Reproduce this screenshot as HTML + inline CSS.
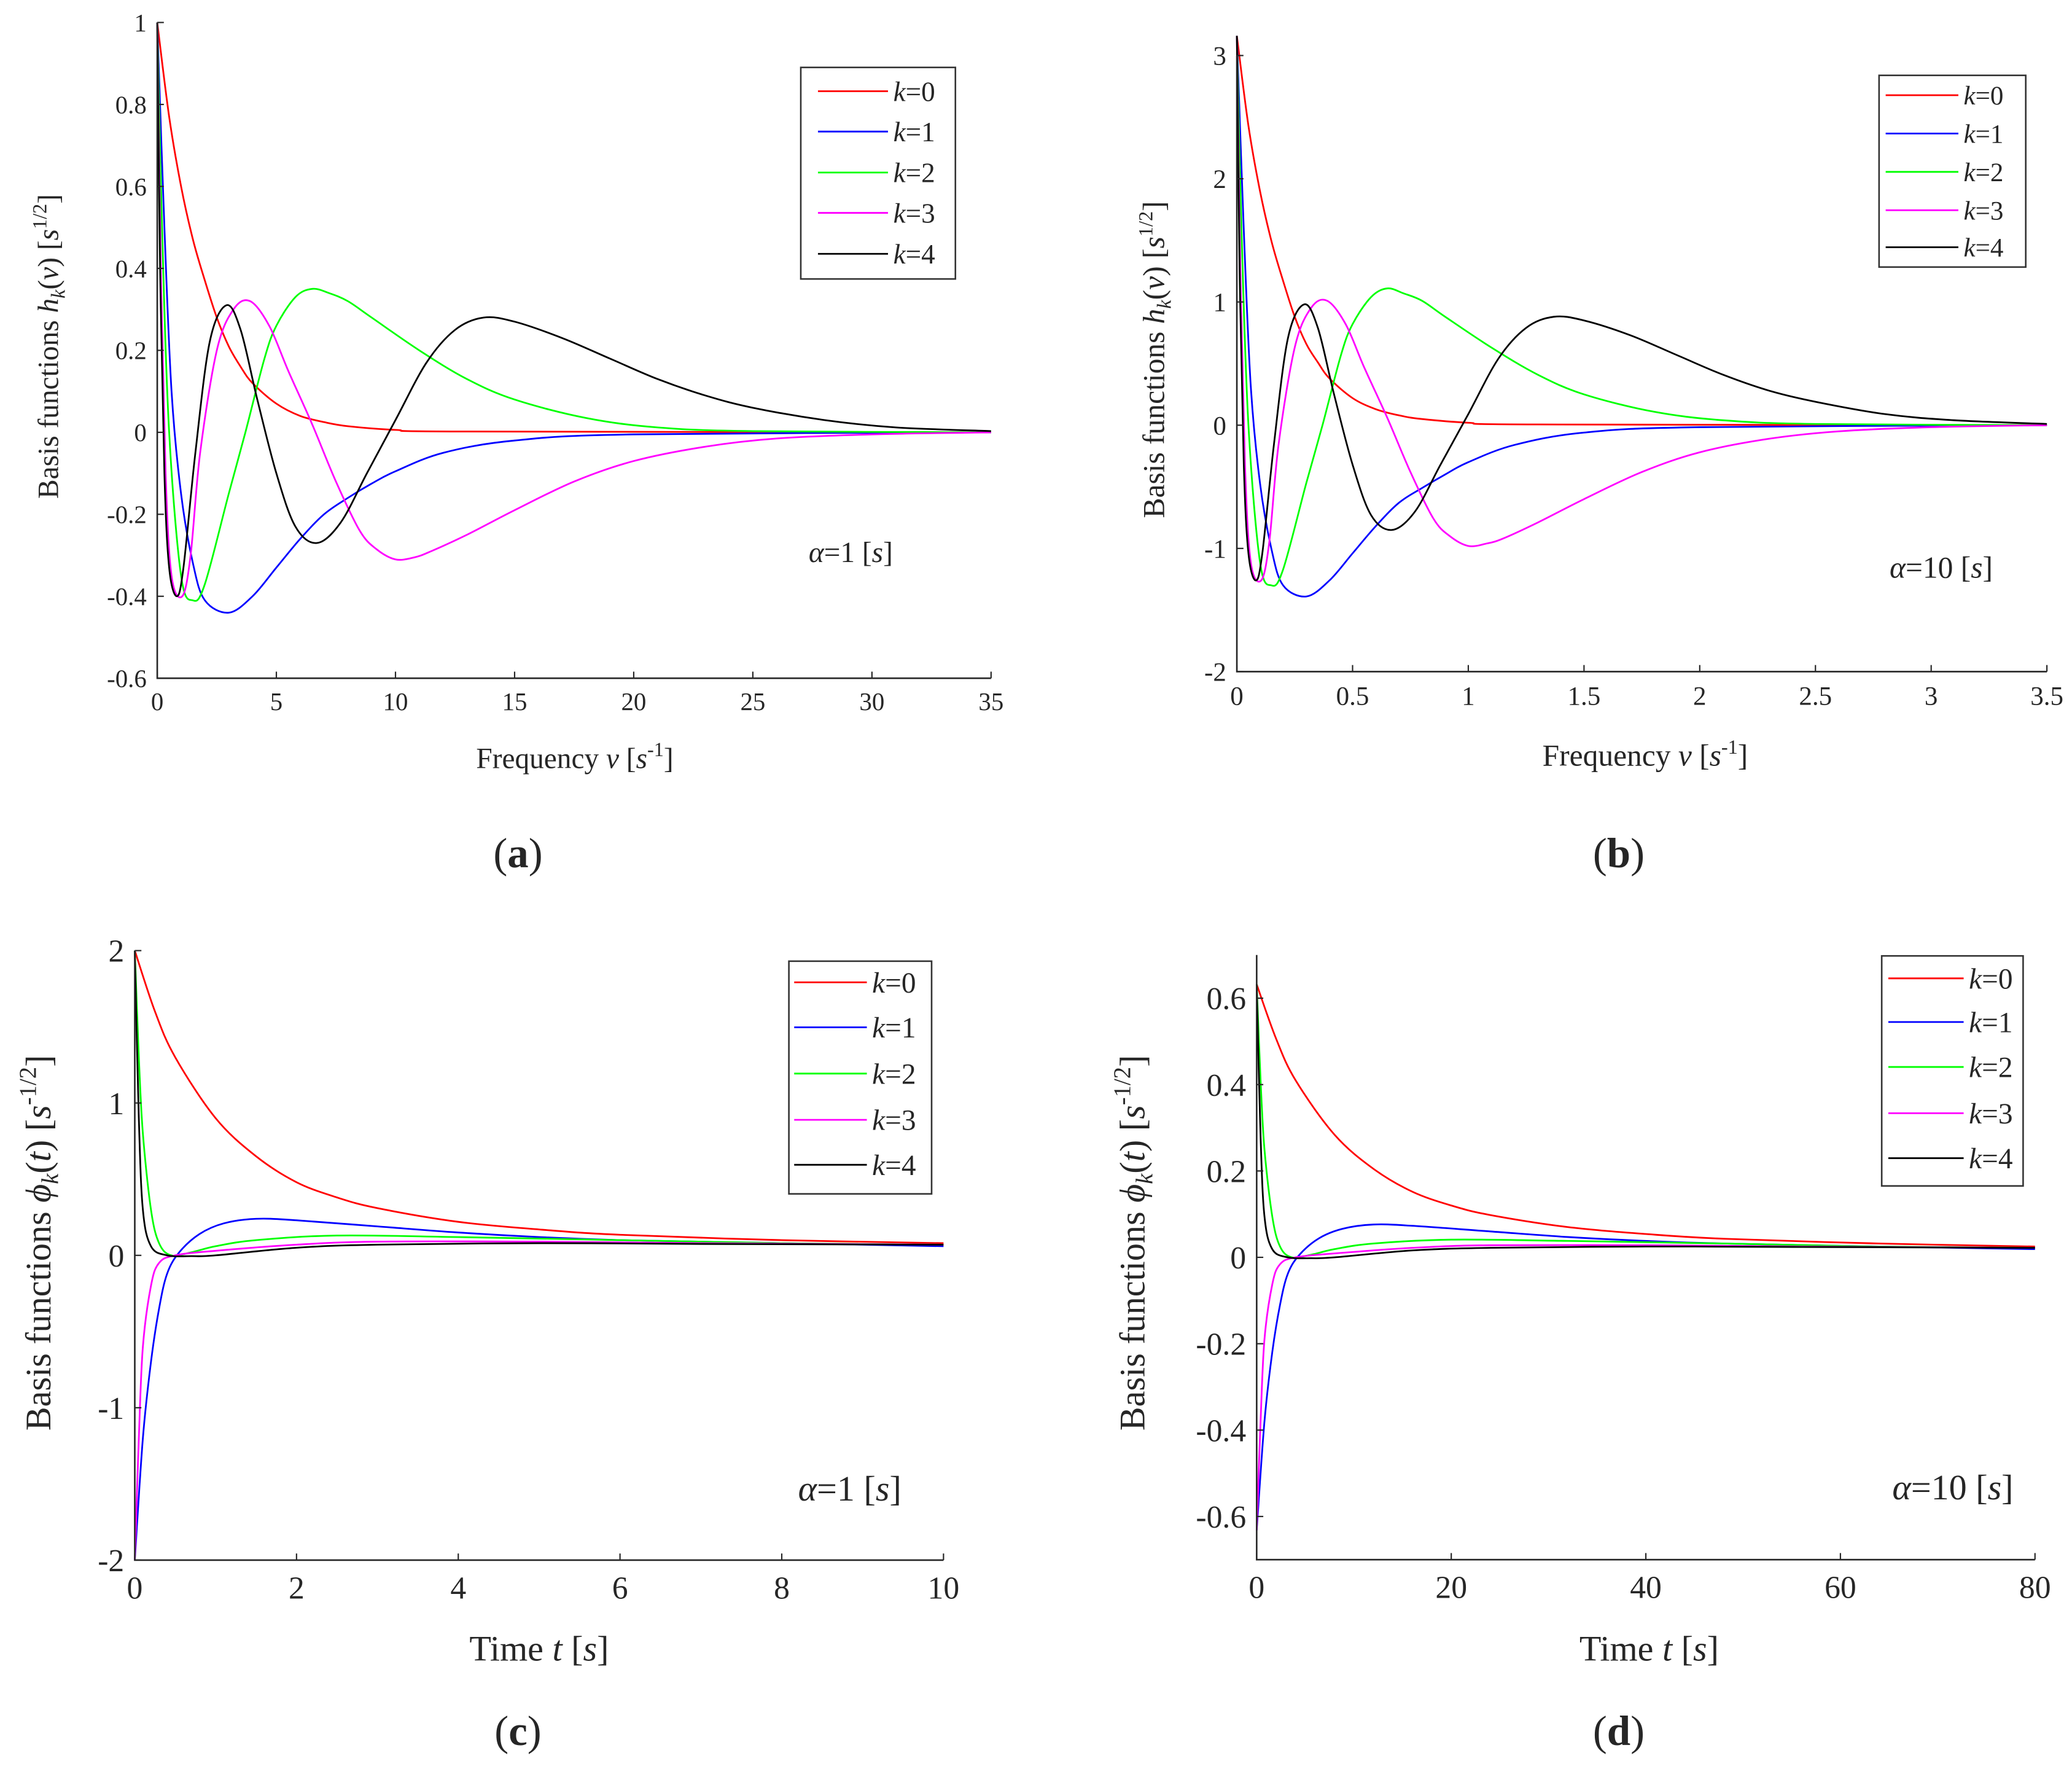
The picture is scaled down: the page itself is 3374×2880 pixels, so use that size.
<!DOCTYPE html>
<html><head><meta charset="utf-8"><style>
html,body{margin:0;padding:0;background:#fff;}
svg{display:block;}
text{font-family:"Liberation Serif",serif;fill:#262626;}
</style></head>
<body>
<svg id="fig" width="3374" height="2880" viewBox="0 0 1568 1338" preserveAspectRatio="none" xmlns="http://www.w3.org/2000/svg"></svg>
<script>
// ---- Panel (a) data: h_k(nu), alpha=1 ----
const A0x=[0,0.5,1,1.5,2,2.5,3,3.5,4,5,6,7,8,10,13,35];
const A0y=[1,0.77,0.6,0.47,0.37,0.28,0.21,0.16,0.12,0.07,0.04,0.025,0.015,0.006,0.002,0];
const A1x=[0,0.3,0.6,1,1.5,2,3,4,5,6,7,8,9,10,12,15,20,35];
const A1y=[1,0.5,0.1,-0.15,-0.32,-0.41,-0.44,-0.4,-0.33,-0.26,-0.2,-0.16,-0.125,-0.095,-0.05,-0.02,-0.005,0];
const A2x=[0,0.2,0.5,1,1.5,2,3,3.7,4.5,5,5.8,6.5,7.2,8,9,11,13,15,18,21,25,35];
const A2y=[1,0.5,0,-0.35,-0.41,-0.37,-0.15,0,0.18,0.26,0.33,0.35,0.34,0.32,0.28,0.2,0.13,0.08,0.035,0.012,0.003,0];
const A3x=[0,0.15,0.35,0.6,1.05,1.4,1.8,2.5,3.2,3.9,4.7,5.5,6.5,7.5,8.5,9.2,10,10.8,11.5,13,15,17.5,20,23,26,30,35];
const A3y=[1,0.4,-0.1,-0.35,-0.4,-0.3,-0.05,0.2,0.3,0.32,0.26,0.15,0.02,-0.12,-0.24,-0.285,-0.31,-0.305,-0.29,-0.25,-0.19,-0.12,-0.07,-0.035,-0.015,-0.005,0];
const A4x=[0,0.12,0.3,0.5,0.82,1.1,1.6,2.2,2.9,3.5,4.2,5,5.8,6.7,7.7,8.8,10,11.3,12.5,13.7,15,17,19,21,23,25,28,31,35];
const A4y=[1,0.4,-0.1,-0.33,-0.4,-0.33,-0.05,0.22,0.31,0.25,0.08,-0.1,-0.23,-0.27,-0.22,-0.1,0.03,0.17,0.25,0.28,0.27,0.23,0.18,0.13,0.09,0.06,0.03,0.012,0.003];
// ---- Panel (b) data: alpha=10 ----
const B0x=[0,0.05,0.1,0.15,0.2,0.25,0.3,0.35,0.4,0.5,0.6,0.7,0.8,1,1.3,3.5];
const B0y=[3.16,2.43,1.9,1.49,1.17,0.88,0.66,0.51,0.38,0.22,0.13,0.08,0.05,0.02,0.006,0];
const B1x=[0,0.03,0.06,0.1,0.15,0.2,0.3,0.4,0.5,0.6,0.7,0.8,0.9,1,1.2,1.5,2,3.5];
const B1y=[3.16,1.58,0.32,-0.47,-1.01,-1.3,-1.39,-1.26,-1.04,-0.82,-0.63,-0.51,-0.4,-0.3,-0.16,-0.06,-0.016,0];
const B2x=[0,0.02,0.05,0.1,0.15,0.2,0.3,0.37,0.45,0.5,0.58,0.65,0.72,0.8,0.9,1.1,1.3,1.5,1.8,2.1,2.5,3.5];
const B2y=[3.16,1.58,0,-1.11,-1.3,-1.17,-0.47,0,0.57,0.82,1.04,1.11,1.07,1.01,0.88,0.63,0.41,0.25,0.11,0.04,0.01,0];
const B3x=[0,0.015,0.035,0.06,0.105,0.14,0.18,0.25,0.32,0.39,0.47,0.55,0.65,0.75,0.85,0.92,1,1.08,1.15,1.3,1.5,1.75,2,2.3,2.6,3,3.5];
const B3y=[3.16,1.26,-0.32,-1.11,-1.26,-0.95,-0.16,0.63,0.95,1.01,0.82,0.47,0.06,-0.38,-0.76,-0.9,-0.98,-0.96,-0.92,-0.79,-0.6,-0.38,-0.22,-0.11,-0.05,-0.016,0];
const B4x=[0,0.012,0.03,0.05,0.082,0.11,0.16,0.22,0.29,0.35,0.42,0.5,0.58,0.67,0.77,0.88,1,1.13,1.25,1.37,1.5,1.7,1.9,2.1,2.3,2.5,2.8,3.1,3.5];
const B4y=[3.16,1.26,-0.32,-1.04,-1.26,-1.04,-0.16,0.7,0.98,0.79,0.25,-0.32,-0.73,-0.85,-0.7,-0.32,0.09,0.54,0.79,0.88,0.85,0.73,0.57,0.41,0.28,0.19,0.09,0.04,0.01];
// ---- Panel (c) data: phi_k(t), alpha=1 ----
const C0x=[0,0.25,0.5,1,1.5,2,2.5,3,4,5,6,8,10];
const C0y=[2,1.6,1.3,0.9,0.65,0.48,0.38,0.31,0.22,0.17,0.135,0.1,0.08];
const C1x=[0,0.1,0.2,0.3,0.4,0.55,0.8,1.1,1.5,2,3,4,5,6,8,10];
const C1y=[-2,-1.2,-0.7,-0.35,-0.12,0.02,0.14,0.21,0.24,0.23,0.19,0.15,0.12,0.1,0.08,0.06];
const C2x=[0,0.05,0.1,0.2,0.3,0.45,0.7,1,1.5,2.5,4,6,8,10];
const C2y=[2,1.3,0.8,0.3,0.08,0,0.02,0.06,0.1,0.13,0.12,0.1,0.08,0.07];
const C3x=[0,0.05,0.1,0.2,0.3,0.5,1,2,3,5,7,10];
const C3y=[-2,-1.2,-0.6,-0.2,-0.05,0,0.03,0.07,0.09,0.09,0.08,0.07];
const C4x=[0,0.05,0.1,0.2,0.4,0.7,1,2,3,5,7,10];
const C4y=[2,0.9,0.3,0.06,0,-0.005,0,0.05,0.07,0.08,0.075,0.07];
// ---- Panel (d) data: alpha=10 ----
const D0x=[0,2,4,8,12,16,20,24,32,40,48,64,80];
const D0y=[0.632,0.506,0.41,0.284,0.205,0.152,0.12,0.098,0.07,0.054,0.043,0.032,0.025];
const D1x=[0,0.8,1.6,2.4,3.2,4.4,6.4,8.8,12,16,24,32,40,48,64,80];
const D1y=[-0.632,-0.38,-0.22,-0.11,-0.038,0.006,0.044,0.066,0.076,0.073,0.06,0.047,0.038,0.032,0.025,0.019];
const D2x=[0,0.4,0.8,1.6,2.4,3.6,5.6,8,12,20,32,48,64,80];
const D2y=[0.632,0.41,0.25,0.095,0.025,0,0.006,0.019,0.032,0.041,0.038,0.032,0.025,0.022];
const D3x=[0,0.4,0.8,1.6,2.4,4,8,16,24,40,56,80];
const D3y=[-0.632,-0.38,-0.19,-0.063,-0.016,0,0.009,0.022,0.028,0.028,0.025,0.022];
const D4x=[0,0.4,0.8,1.6,3.2,5.6,8,16,24,40,56,80];
const D4y=[0.632,0.28,0.095,0.019,0,-0.002,0,0.016,0.022,0.025,0.024,0.022];

const xTicksA=[0,5,10,15,20,25,30,35];
const yTicksA=[-0.6,-0.4,-0.2,0,0.2,0.4,0.6,0.8,1];
const xTicksB=[0,0.5,1,1.5,2,2.5,3,3.5];
const yTicksB=[-2,-1,0,1,2,3];
const xTicksC=[0,2,4,6,8,10];
const yTicksC=[-2,-1,0,1,2];
const xTicksD=[0,20,40,60,80];
const yTicksD=[-0.6,-0.4,-0.2,0,0.2,0.4,0.6];
const legendLabels=['0','1','2','3','4'];
const colors=['#ff0000','#0000ff','#00ff00','#ff00ff','#000000'];

const NS='http://www.w3.org/2000/svg';
const svg=document.getElementById('fig');
function mk(tag,attrs,parent){const e=document.createElementNS(NS,tag);for(const k in attrs)e.setAttribute(k,attrs[k]);(parent||svg).appendChild(e);return e;}
function smooth(pts){
  let d='M'+pts[0][0].toFixed(2)+','+pts[0][1].toFixed(2);
  for(let i=0;i<pts.length-1;i++){
    const p0=pts[Math.max(0,i-1)],p1=pts[i],p2=pts[i+1],p3=pts[Math.min(pts.length-1,i+2)];
    const c1=[p1[0]+(p2[0]-p0[0])/6,p1[1]+(p2[1]-p0[1])/6];
    const c2=[p2[0]-(p3[0]-p1[0])/6,p2[1]-(p3[1]-p1[1])/6];
    d+=' C'+c1[0].toFixed(2)+','+c1[1].toFixed(2)+' '+c2[0].toFixed(2)+','+c2[1].toFixed(2)+' '+p2[0].toFixed(2)+','+p2[1].toFixed(2);
  }
  return d;
}
function fmt(v){return String(Math.round(v*10)/10);}

function panel(cfg){
  const g=mk('g',{});
  
  
  const sx=v=>cfg.px0+(v-cfg.xmin)/(cfg.xmax-cfg.xmin)*(cfg.px1-cfg.px0);
  const sy=v=>cfg.py0+(cfg.ymax-v)/(cfg.ymax-cfg.ymin)*(cfg.py1-cfg.py0);
  const top=sy(cfg.axTop), bot=sy(cfg.axBot);
  cfg.series.forEach((s,i)=>{
    const pts=s[0].map((x,j)=>[sx(x),sy(s[1][j])]);
    const p=mk('path',{d:smooth(pts),fill:'none',stroke:colors[i],'stroke-width':1.3},g);
    
    
  });
  const ax=mk('path',{d:`M${cfg.px0},${top} L${cfg.px0},${bot} L${sx(cfg.xmax)},${bot}`,fill:'none',stroke:'#262626','stroke-width':1.2},g);
  
  
  cfg.xt.forEach(v=>{
    const x=sx(v);
    mk('line',{x1:x,y1:bot,x2:x,y2:bot-5,stroke:'#262626','stroke-width':1},g);
    const t=mk('text',{x:x,y:bot+cfg.fs+5,'text-anchor':'middle','font-size':cfg.fs},g);
    t.textContent=fmt(v);
    
    
  });
  cfg.yt.forEach(v=>{
    const y=sy(v);
    mk('line',{x1:cfg.px0,y1:y,x2:cfg.px0+5,y2:y,stroke:'#262626','stroke-width':1},g);
    const t=mk('text',{x:cfg.px0-8,y:y+cfg.fs*0.35,'text-anchor':'end','font-size':cfg.fs},g);
    t.textContent=fmt(v);
    
    
  });
  const L=cfg.leg;
  const lg=mk('g',{},g);
  
  
  mk('rect',{x:L.x,y:L.y,width:L.w,height:L.h,fill:'#fff',stroke:'#333','stroke-width':1.2},lg);
  legendLabels.forEach((lab,i)=>{
    const y=L.rows[i];
    mk('line',{x1:L.l0,y1:y,x2:L.l1,y2:y,stroke:colors[i],'stroke-width':1.3},lg);
    const t=mk('text',{x:L.l1+4,y:y+L.fs*0.35,'font-size':L.fs},lg);
    t.innerHTML='<tspan font-style="italic">k</tspan>='+lab;
    
    
  });
  const xl=mk('text',{x:cfg.xl[0],y:cfg.xl[1],'text-anchor':'middle','font-size':cfg.lfs},g);
  xl.innerHTML=cfg.xlText;
  
  
  const yl=mk('text',{x:0,y:0,'text-anchor':'middle','font-size':cfg.lfs,transform:`translate(${cfg.yl[0]},${cfg.yl[1]}) rotate(-90)`},g);
  yl.innerHTML=cfg.ylText;
  
  
  const an=mk('text',{x:cfg.an[0],y:cfg.an[1],'font-size':cfg.lfs},g);
  an.innerHTML='<tspan font-style="italic">α</tspan>='+cfg.anText+' [<tspan font-style="italic">s</tspan>]';
  
  
  const pl=mk('text',{x:cfg.pl[0],y:cfg.pl[1],'text-anchor':'middle','font-size':32},g);
  pl.innerHTML='(<tspan font-weight="bold">'+cfg.plText+'</tspan>)';
  
  
}

const ylH='Basis functions <tspan font-style="italic">h</tspan><tspan font-style="italic" font-size="15" dy="5">k</tspan><tspan dy="-5">(</tspan><tspan font-style="italic">v</tspan>) [<tspan font-style="italic">s</tspan><tspan font-size="15" dy="-9">1/2</tspan><tspan dy="9">]</tspan>';
const xlF='Frequency  <tspan font-style="italic">v</tspan> [<tspan font-style="italic">s</tspan><tspan font-size="15" dy="-9">-1</tspan><tspan dy="9">]</tspan>';
const ylP='Basis functions <tspan font-style="italic">ϕ</tspan><tspan font-style="italic" font-size="18" dy="6">k</tspan><tspan dy="-6">(</tspan><tspan font-style="italic">t</tspan>) [<tspan font-style="italic">s</tspan><tspan font-size="18" dy="-11">-1/2</tspan><tspan dy="11">]</tspan>';
const xlT='Time  <tspan font-style="italic">t</tspan> [<tspan font-style="italic">s</tspan>]';

panel({name:'panel-a',xmin:0,xmax:35,px0:119,px1:750,ymin:-0.6,ymax:1,py0:17,py1:513,axTop:1,axBot:-0.6,
  series:[[A0x,A0y],[A1x,A1y],[A2x,A2y],[A3x,A3y],[A4x,A4y]],xt:xTicksA,yt:yTicksA,fs:19,lfs:22,
  leg:{x:606,y:51,w:117,h:160,l0:619,l1:672,rows:[69,99.5,130.5,161,192],fs:21},
  xl:[435,581],xlText:xlF,yl:[44,262],ylText:ylH,an:[612,425],anText:'1',pl:[392,656],plText:'a'});
panel({name:'panel-b',xmin:0,xmax:3.5,px0:936,px1:1549,ymin:-2,ymax:3,py0:42,py1:508,axTop:3,axBot:-2,
  series:[[B0x,B0y],[B1x,B1y],[B2x,B2y],[B3x,B3y],[B4x,B4y]],xt:xTicksB,yt:yTicksB,fs:20,lfs:23,
  leg:{x:1422,y:57,w:111,h:145,l0:1427,l1:1482,rows:[72,101,130,159,187],fs:20},
  xl:[1245,579],xlText:xlF,yl:[881,272],ylText:ylH,an:[1430,437],anText:'10',pl:[1225,656],plText:'b'});
panel({name:'panel-c',xmin:0,xmax:10,px0:102,px1:714,ymin:-2,ymax:2,py0:719,py1:1180,axTop:2,axBot:-2,
  series:[[C0x,C0y],[C1x,C1y],[C2x,C2y],[C3x,C3y],[C4x,C4y]],xt:xTicksC,yt:yTicksC,fs:24,lfs:27,
  leg:{x:597,y:727,w:108,h:176,l0:601,l1:656,rows:[743,777,812,847,881],fs:22},
  xl:[408,1256],xlText:xlT,yl:[38,940],ylText:ylP,an:[604,1135],anText:'1',pl:[392,1320],plText:'c'});
panel({name:'panel-d',xmin:0,xmax:80,px0:951,px1:1540,ymin:-0.6,ymax:0.6,py0:755,py1:1147,axTop:0.7,axBot:-0.7,
  series:[[D0x,D0y],[D1x,D1y],[D2x,D2y],[D3x,D3y],[D4x,D4y]],xt:xTicksD,yt:yTicksD,fs:24,lfs:27,
  leg:{x:1424,y:723,w:107,h:174,l0:1429,l1:1486,rows:[740,773,807,842,876],fs:22},
  xl:[1248,1256],xlText:xlT,yl:[866,940],ylText:ylP,an:[1432,1134],anText:'10',pl:[1225,1320],plText:'d'});
</script>
</body></html>
